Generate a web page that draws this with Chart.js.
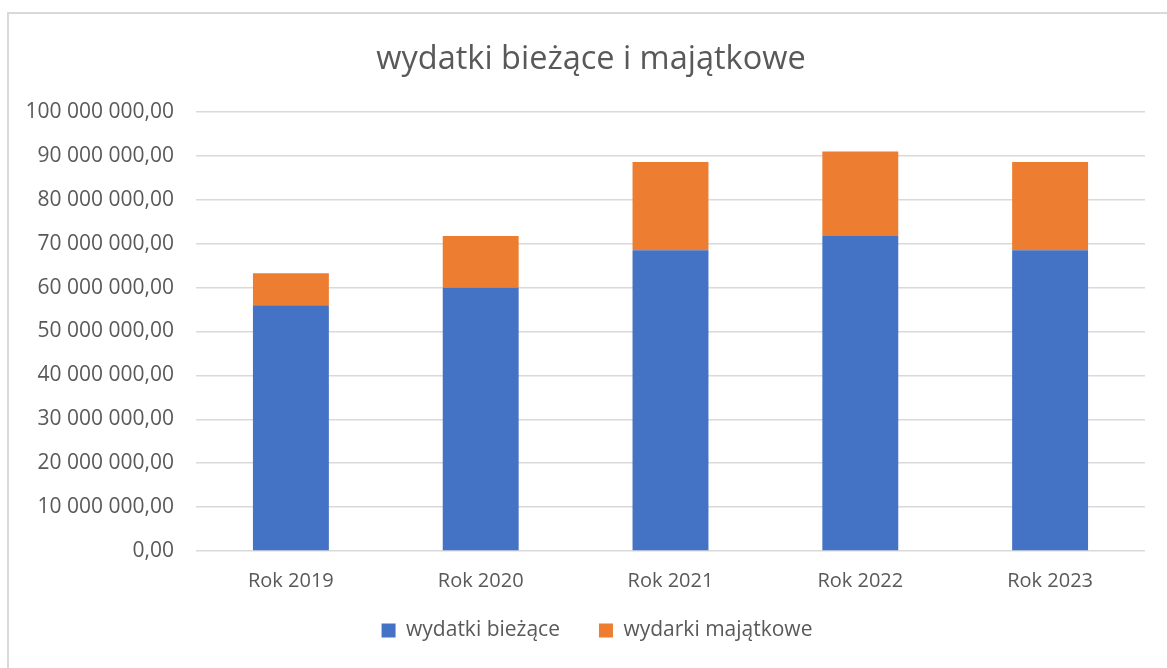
<!DOCTYPE html>
<html>
<head>
<meta charset="utf-8">
<script src="https://cdn.jsdelivr.net/npm/chart.js@4/dist/chart.umd.min.js"></script>
<style>
html,body{margin:0;padding:0;background:#fff;overflow:hidden;}
#wrap{position:absolute;left:0;top:0;width:1167px;height:668px;}
#frame{position:absolute;left:7px;top:12px;width:1200px;height:700px;border:2px solid #d9d9d9;box-sizing:border-box;}
canvas{position:absolute;left:0;top:0;}
</style>
</head>
<body>
<div id="wrap">
<div id="frame"></div>
<canvas id="c" width="1167" height="668"></canvas>
</div>
<script>
const categories = ["Rok 2019", "Rok 2020", "Rok 2021", "Rok 2022", "Rok 2023"];
const biezace = [56000000, 60050000, 68500000, 71750000, 68500000];
const majatkowe = [7250000, 11700000, 20100000, 19250000, 20100000];
const seriesNames = ["wydatki bieżące", "wydarki majątkowe"];
const yTicks = [0, 10000000, 20000000, 30000000, 40000000, 50000000, 60000000, 70000000, 80000000, 90000000, 100000000];
const titleText = "wydatki bieżące i majątkowe";

function fmt(v){
  const s = Math.round(v).toString().replace(/\B(?=(\d{3})+(?!\d))/g, " ");
  return s + ",00";
}

const FONT = "'Open Sans', 'Noto Sans', sans-serif";
const GREY = "#595959";

const titlePlugin = {
  id: 'excelTitle',
  beforeDraw(chart) {
    // shift the legend block to match the original layout
    const lg = chart.legend;
    if (lg) { lg.left = 49; lg.top = 581; }
  },
  afterDraw(chart) {
    const ctx = chart.ctx;
    ctx.save();
    ctx.font = "32.5px " + FONT;
    ctx.fillStyle = GREY;
    ctx.textAlign = 'center';
    ctx.textBaseline = 'middle';
    ctx.fillText(titleText, 591, 60);
    ctx.restore();
  }
};

new Chart(document.getElementById('c'), {
  type: 'bar',
  data: {
    labels: categories,
    datasets: [
      {label: seriesNames[0], data: biezace, backgroundColor: '#4472C4', barPercentage: 0.4, categoryPercentage: 1.0},
      {label: seriesNames[1], data: majatkowe, backgroundColor: '#ED7D31', barPercentage: 0.4, categoryPercentage: 1.0}
    ]
  },
  plugins: [titlePlugin],
  options: {
    responsive: false,
    animation: false,
    devicePixelRatio: 1,
    layout: {padding: {left: 0, right: 22, top: 112, bottom: 17}},
    plugins: {
      title: {display: false},
      legend: {position: 'bottom', maxHeight: 50, labels: {color: GREY, font: {family: FONT, size: 21}, boxWidth: 14, boxHeight: 14, padding: 39}},
      tooltip: {enabled: false}
    },
    scales: {
      x: {
        stacked: true,
        grid: {display: false},
        border: {display: false},
        afterFit: (ax) => { ax.height = 50; },
        ticks: {color: GREY, font: {family: FONT, size: 20}, padding: 10}
      },
      y: {
        stacked: true,
        min: 0, max: 100000000,
        afterBuildTicks: (ax) => { ax.ticks = yTicks.map(v => ({value: v})); },
        afterFit: (ax) => { ax.width = 196; },
        grid: {color: '#d9d9d9', lineWidth: 1.5, drawTicks: false},
        border: {display: false},
        ticks: {color: GREY, font: {family: FONT, size: 21}, padding: 22, callback: (v) => fmt(v)}
      }
    }
  }
});
</script>
</body>
</html>
